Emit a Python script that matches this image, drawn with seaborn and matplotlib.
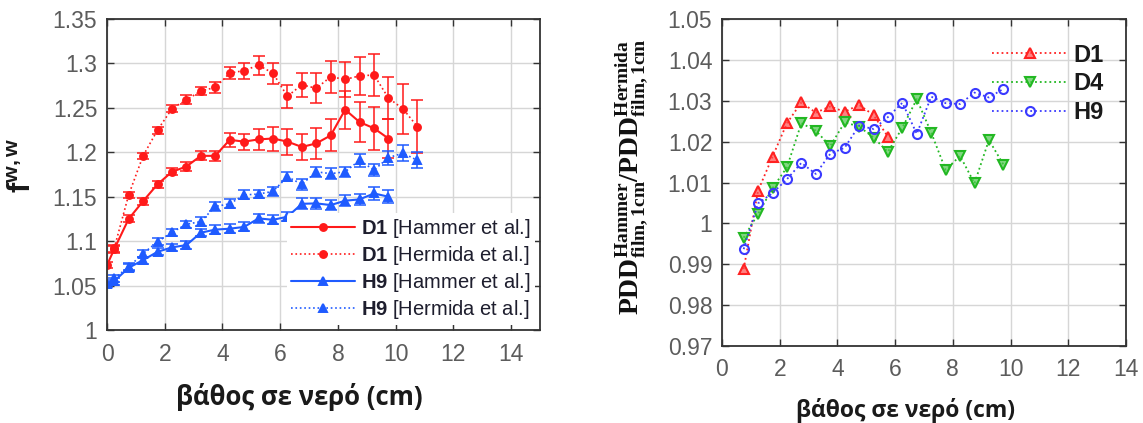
import matplotlib
matplotlib.use("Agg")
import matplotlib.pyplot as plt
import seaborn as sns

# ---------------- left panel: f^{w,w} versus depth ----------------
depth_hammer = [0, 0.25, 0.75, 1.25, 1.75, 2.25, 2.75, 3.25, 3.75, 4.25, 4.75,
                5.25, 5.75, 6.25, 6.75, 7.25, 7.75, 8.25, 8.75, 9.25, 9.75]
depth_hermida = [0.25, 0.75, 1.25, 1.75, 2.25, 2.75, 3.25, 3.75, 4.25, 4.75, 5.25,
                 5.75, 6.25, 6.75, 7.25, 7.75, 8.25, 8.75, 9.25, 9.75, 10.25, 10.75]

d1_hammer = [1.073, 1.091, 1.125, 1.145, 1.164, 1.178, 1.184, 1.196, 1.196, 1.214, 1.212,
             1.2145, 1.2155, 1.212, 1.206, 1.210, 1.219, 1.248, 1.234, 1.227, 1.2155]
d1_hammer_err = [0.003, 0.004, 0.004, 0.004, 0.004, 0.004, 0.005, 0.005, 0.006, 0.008, 0.009,
                 0.012, 0.0135, 0.0145, 0.0145, 0.017, 0.018, 0.0215, 0.0225, 0.024, 0.022]

d1_hermida = [1.092, 1.152, 1.196, 1.225, 1.249, 1.259, 1.269, 1.273, 1.289, 1.292, 1.298,
              1.289, 1.263, 1.276, 1.272, 1.285, 1.282, 1.286, 1.287, 1.261, 1.249, 1.229]
d1_hermida_err = [0.004, 0.003, 0.003, 0.004, 0.004, 0.005, 0.005, 0.006, 0.0066, 0.009, 0.0105,
                  0.012, 0.013, 0.0135, 0.017, 0.018, 0.02, 0.0215, 0.024, 0.024, 0.028, 0.03]

h9_hammer = [1.052, 1.055, 1.070, 1.0787, 1.088, 1.093, 1.0956, 1.1095, 1.113, 1.114, 1.116,
             1.1256, 1.124, 1.1275, 1.142, 1.1425, 1.1406, 1.1455, 1.147, 1.1537, 1.150]
h9_hammer_err = [0.004, 0.004, 0.004, 0.004, 0.004, 0.004, 0.004, 0.004, 0.005, 0.005, 0.005,
                 0.005, 0.005, 0.005, 0.006, 0.006, 0.006, 0.006, 0.006, 0.007, 0.007]

h9_hermida = [1.058, 1.071, 1.086, 1.0993, 1.110, 1.119, 1.122, 1.139, 1.142, 1.152, 1.153,
              1.156, 1.1725, 1.164, 1.178, 1.176, 1.178, 1.191, 1.180, 1.194, 1.199, 1.191]
h9_hermida_err = [0.004, 0.004, 0.004, 0.004, 0.004, 0.004, 0.005, 0.005, 0.005, 0.005, 0.005,
                  0.005, 0.005, 0.006, 0.006, 0.006, 0.006, 0.007, 0.007, 0.008, 0.009, 0.009]

left_yticks = [1.0, 1.05, 1.1, 1.15, 1.2, 1.25, 1.3, 1.35]
left_yticklabels = ["1", "1.05", "1.1", "1.15", "1.2", "1.25", "1.3", "1.35"]

# ---------------- right panel: PDD ratio versus depth ----------------
depth_ratio = [0.75, 1.25, 1.75, 2.25, 2.75, 3.25, 3.75, 4.25, 4.75, 5.25,
               5.75, 6.25, 6.75, 7.25, 7.75, 8.25, 8.75, 9.25, 9.75]
ratio_d1 = [0.9888, 1.008, 1.0163, 1.0245, 1.0296, 1.0271, 1.0286, 1.0273, 1.029, 1.0265, 1.0212]
ratio_d4 = [0.9965, 1.0023, 1.0086, 1.0137, 1.0245, 1.0227, 1.0189, 1.0247, 1.0237, 1.021,
            1.0175, 1.0234, 1.0304, 1.0222, 1.0131, 1.0165, 1.0098, 1.0204, 1.0144]
ratio_h9 = [0.9937, 1.0049, 1.0074, 1.0108, 1.0148, 1.0121, 1.017, 1.0185, 1.0239, 1.0231,
            1.026, 1.0295, 1.0219, 1.031, 1.0294, 1.0292, 1.032, 1.0308, 1.0329]

right_yticks = [0.97, 0.98, 0.99, 1.0, 1.01, 1.02, 1.03, 1.04, 1.05]
right_yticklabels = ["0.97", "0.98", "0.99", "1", "1.01", "1.02", "1.03", "1.04", "1.05"]

xticks = [0, 2, 4, 6, 8, 10, 12, 14]
xlabel_text = "βάθος σε νερό (cm)"

# ---------------- style ----------------
sns.set_theme(style="whitegrid")
plt.rcParams.update({
    "font.family": ["Liberation Sans", "DejaVu Sans"],
    "mathtext.fontset": "custom",
    "mathtext.rm": "Liberation Serif:bold",
    "mathtext.bf": "Liberation Sans:bold",
    "mathtext.sf": "Liberation Sans:bold",
    "mathtext.it": "Liberation Sans:italic",
    "legend.numpoints": 1,
})

RED = "#ff1a1a"
BLUE = "#1f5bff"
R_RED = "#ff2222"
R_GREEN = "#22b822"
R_BLUE = "#3a3aff"
SPINE = "#333333"
TICKTXT = "#5c5c5c"

fig = plt.figure(figsize=(11.43, 4.23), dpi=100)
axL = fig.add_axes([107 / 1143, 1 - 330 / 423, 433 / 1143, 311 / 423])
axR = fig.add_axes([722 / 1143, 1 - 346 / 423, 404 / 1143, 327 / 423])


def style_axes(ax):
    ax.set_facecolor("white")
    for sp in ax.spines.values():
        sp.set_visible(True)
        sp.set_color(SPINE)
        sp.set_linewidth(1.3)
    ax.grid(True, color="#d6d6d6", linewidth=1.0)
    ax.set_axisbelow(True)
    ax.tick_params(direction="in", length=5, width=1, color=SPINE, labelcolor=TICKTXT,
                   labelsize=16.5, top=True, right=True, left=True, bottom=True,
                   labeltop=False, labelright=False)
    ax.tick_params(axis="x", pad=9)
    ax.tick_params(axis="y", pad=7)


# ----- left panel -----
series_left = [
    (depth_hammer, d1_hammer, d1_hammer_err, RED, "-", "o", RED, 5.0, r"$\mathbf{D1}$ [Hammer et al.]"),
    (depth_hermida, d1_hermida, d1_hermida_err, RED, ":", "o", RED, 5.0, r"$\mathbf{D1}$ [Hermida et al.]"),
    (depth_hammer, h9_hammer, h9_hammer_err, BLUE, "-", "^", BLUE, 6.0, r"$\mathbf{H9}$ [Hammer et al.]"),
    (depth_hermida, h9_hermida, h9_hermida_err, BLUE, ":", "^", BLUE, 6.0, r"$\mathbf{H9}$ [Hermida et al.]"),
]
for x, y, err, col, ls, mk, face, ms, lab in series_left:
    sns.lineplot(x=x, y=y, ax=axL, color=col, linestyle=ls, linewidth=1.5 if ls == "-" else 1.2,
                 marker=mk, markersize=ms, markerfacecolor=face, markeredgecolor=col,
                 markeredgewidth=1.4, label=lab, sort=False)
    axL.errorbar(x, y, yerr=err, fmt="none", ecolor=col, elinewidth=1.1, capsize=4, capthick=1.1)

style_axes(axL)
axL.set_xlim(0, 15)
axL.set_ylim(1.0, 1.35)
axL.set_xticks(xticks)
axL.set_xticklabels([str(t) for t in xticks])
axL.set_yticks(left_yticks)
axL.set_yticklabels(left_yticklabels)
axL.set_xlabel(xlabel_text, family=["Open Sans", "DejaVu Sans"], fontweight="bold",
               fontsize=18.5, color="#1a1a1a")
axL.xaxis.set_label_coords(0.443, -0.17)
axL.set_ylabel(r"$\mathsf{f^{w,w}}$", fontsize=22, color="#1a1a1a")
axL.yaxis.set_label_coords(-0.16, 0.53)
legL = axL.legend(loc="lower right", fontsize=14.5, frameon=True, framealpha=1, facecolor="white",
                  edgecolor="white", handlelength=3.2, labelspacing=0.2, borderpad=0.2,
                  borderaxespad=0.25, handletextpad=0.3)
legL.get_frame().set_linewidth(0)
for t in legL.get_texts():
    t.set_color("#1e1e2e")

# ----- right panel -----
series_right = [
    (depth_ratio[:len(ratio_d1)], ratio_d1, R_RED, "^", (1.0, 0.3, 0.3, 0.7), 7.5, "D1"),
    (depth_ratio, ratio_d4, R_GREEN, "v", (0.3, 0.78, 0.3, 0.7), 7.5, "D4"),
    (depth_ratio, ratio_h9, R_BLUE, "o", "none", 6.5, "H9"),
]
for x, y, col, mk, face, ms, lab in series_right:
    sns.lineplot(x=x, y=y, ax=axR, color=col, linestyle=":", linewidth=1.3,
                 marker=mk, markersize=ms, markerfacecolor=face, markeredgecolor=col,
                 markeredgewidth=1.5, label=lab, sort=False)

style_axes(axR)
axR.set_xlim(0, 14)
axR.set_ylim(0.97, 1.05)
axR.set_xticks(xticks)
axR.set_xticklabels([str(t) for t in xticks])
axR.set_yticks(right_yticks)
axR.set_yticklabels(right_yticklabels)
axR.set_xlabel(xlabel_text, family=["Open Sans", "DejaVu Sans"], fontweight="bold",
               fontsize=16.5, color="#1a1a1a")
axR.xaxis.set_label_coords(0.453, -0.16)
axR.set_ylabel(r"$\mathrm{PDD^{Hammer}_{film,1cm}/PDD^{Hermida}_{film,1cm}}$",
               fontsize=20, color="#111111")
axR.yaxis.set_label_coords(-0.178, 0.517)
legR = axR.legend(loc="upper right", bbox_to_anchor=(0.998, 0.99), frameon=False,
                  prop={"weight": "bold", "size": 17}, handlelength=3.2,
                  labelspacing=0.25, handletextpad=0.25)
for t in legR.get_texts():
    t.set_color("#1a1a1a")

fig.savefig("out.png", dpi=100, facecolor="white")
